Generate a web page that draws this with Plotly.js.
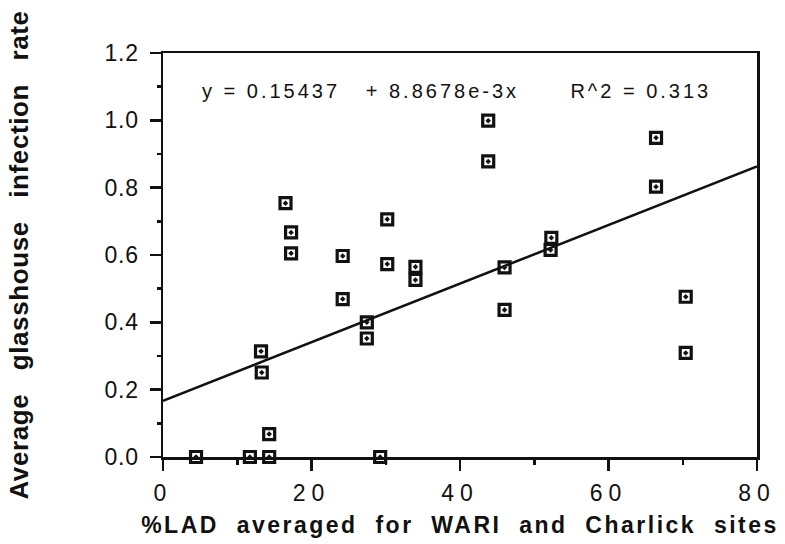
<!DOCTYPE html>
<html>
<head>
<meta charset="utf-8">
<script src="https://cdn.plot.ly/plotly-3.0.1.min.js"></script>
<style>
  html, body { margin: 0; padding: 0; background: #fff; }
  #chart { width: 785px; height: 544px; }
  .xtick text { letter-spacing: 6px; }
  .ytick text { letter-spacing: 0.8px; }
  .xtitle { letter-spacing: 2.5px; }
  .ytitle { letter-spacing: 0.6px; }
  .annotation-text { letter-spacing: 3px; }
</style>
</head>
<body>
<div id="chart"></div>
<script>
// Data
const lad = [16.5, 17.25, 17.25, 24.2, 30.2, 30.2, 34.0, 34.0, 43.8, 43.8, 66.4, 66.4, 52.3, 52.2, 46.0, 46.0, 70.4, 70.4, 24.2, 27.45, 27.45, 13.2, 13.3, 14.3, 4.45, 11.7, 14.3, 29.25];
const infection = [0.754, 0.667, 0.605, 0.597, 0.706, 0.573, 0.565, 0.526, 0.999, 0.878, 0.948, 0.803, 0.651, 0.615, 0.563, 0.437, 0.476, 0.309, 0.469, 0.400, 0.352, 0.314, 0.251, 0.068, 0, 0, 0, 0];
const fitX = [0, 80];
const fitY = [0.167, 0.863];
const xTicks = [0, 20, 40, 60, 80];
const yTicks = [0.0, 0.2, 0.4, 0.6, 0.8, 1.0, 1.2];
const yTickText = ['0.0', '0.2', '0.4', '0.6', '0.8', '1.0', '1.2'];
const equationText = 'y = 0.15437   + 8.8678e-3x      R^2 = 0.313';
const xTitleText = '%LAD  averaged  for  WARI  and  Charlick  sites';
const yTitleText = 'Average   glasshouse   infection   rate';

const nb = s => s.replace(/ /g, '\u00A0');
const FONT = '"Liberation Sans", Arial, Helvetica, sans-serif';

const traces = [
  {
    x: fitX, y: fitY, mode: 'lines', type: 'scatter',
    line: { color: '#111', width: 2.5 }, hoverinfo: 'skip', showlegend: false
  },
  {
    x: lad, y: infection, mode: 'markers', type: 'scatter',
    marker: { symbol: 'square-open-dot', size: 11, color: '#111', line: { color: '#111', width: 3.2 } },
    cliponaxis: false, showlegend: false
  }
];

const axisCommon = {
  showgrid: false, zeroline: false, showline: true, linecolor: '#111', linewidth: 2.5,
  mirror: true, ticks: 'outside', tickcolor: '#111', tickwidth: 2.5, ticklen: 11,
  tickfont: { family: FONT, size: 23, color: '#111' }
};

const layout = {
  width: 785, height: 544,
  margin: { l: 163, r: 28, t: 53, b: 87, pad: 0 },
  paper_bgcolor: '#fff', plot_bgcolor: '#fff',
  font: { family: FONT, color: '#111' },
  xaxis: Object.assign({}, axisCommon, {
    range: [0, 80], tickvals: xTicks, ticktext: xTicks.map(String),
    minor: { dtick: 10, tick0: 0, ticks: 'outside', ticklen: 5, tickwidth: 2.5, tickcolor: '#111' },
    ticklabelstandoff: 3,
    title: { text: nb(xTitleText), font: { family: FONT, size: 23, weight: 'bold', color: '#111' }, standoff: 12 }
  }),
  yaxis: Object.assign({}, axisCommon, {
    range: [0, 1.2], tickvals: yTicks, ticktext: yTickText,
    minor: { dtick: 0.1, tick0: 0, ticks: 'outside', ticklen: 4, tickwidth: 2.5, tickcolor: '#111' },
    ticklabelstandoff: 6,
    title: { text: nb(yTitleText), font: { family: FONT, size: 26, weight: 'bold', color: '#111' }, standoff: 69 }
  }),
  annotations: [{
    xref: 'paper', yref: 'paper', x: 0.062, y: 0.905, xanchor: 'left', yanchor: 'middle',
    text: nb(equationText), showarrow: false,
    font: { family: FONT, size: 20, color: '#111' }
  }]
};

Plotly.newPlot('chart', traces, layout, { displayModeBar: false, staticPlot: true });
</script>
</body>
</html>
